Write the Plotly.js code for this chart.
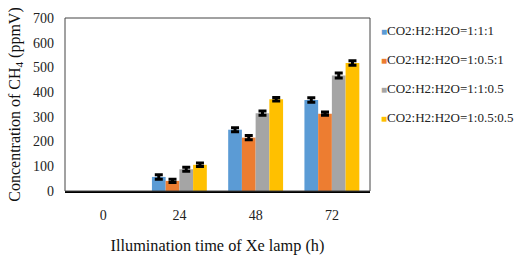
<!DOCTYPE html>
<html>
<head>
<meta charset="utf-8">
<script src="https://cdn.plot.ly/plotly-3.0.1.min.js"></script>
<style>html,body{margin:0;padding:0;background:#fff;}#chart{width:529px;height:257px;}</style>
</head>
<body>
<div id="chart"></div>
<script>
const categories = ['0', '24', '48', '72'];
const seriesNames = ['CO2:H2:H2O=1:1:1', 'CO2:H2:H2O=1:0.5:1', 'CO2:H2:H2O=1:1:0.5', 'CO2:H2:H2O=1:0.5:0.5'];
const ratio111 = [null, 57, 248, 368];
const ratio10501 = [null, 41, 216, 313];
const ratio1105 = [null, 88, 315, 467];
const ratio10505 = [null, 106, 371, 518];
const err111 = [null, 9, 8, 9];
const err10501 = [null, 7, 9, 7];
const err1105 = [null, 8, 9, 10];
const err10505 = [null, 7, 7, 9];
const colors = ['#5B9BD5', '#ED7D31', '#A5A5A5', '#FFC000'];

const values = [ratio111, ratio10501, ratio1105, ratio10505];
const errs = [err111, err10501, err1105, err10505];
const FONT = 'Liberation Serif, Times New Roman, serif';

const traces = values.map((v, i) => ({
  type: 'bar', x: categories, y: v, name: seriesNames[i],
  marker: {color: colors[i]},
  error_y: {type: 'data', array: errs[i], visible: true, color: '#000', thickness: 3, width: 4},
  showlegend: false, hoverinfo: 'none'
}));

const annotations = seriesNames.map((n, i) => ({
  xref: 'paper', yref: 'paper', x: 1.03, y: 0.93 - i * 0.168,
  xanchor: 'left', yanchor: 'middle', showarrow: false,
  text: '<span style="color:' + colors[i] + ';font-size:10px">■</span>' + n,
  font: {family: FONT, size: 13, color: '#222'}
}));

const layout = {
  width: 529, height: 257,
  margin: {l: 65, r: 159, t: 18, b: 66},
  paper_bgcolor: '#fff', plot_bgcolor: '#fff',
  barmode: 'group', bargap: 0.28, bargroupgap: 0,
  font: {family: FONT, color: '#222'},
  xaxis: {
    type: 'category', showgrid: false, zeroline: false,
    showline: true, linecolor: '#000', linewidth: 2,
    ticks: '', ticklabelstandoff: 10,
    tickfont: {family: FONT, size: 14, color: '#222'},
    title: {text: 'Illumination time of Xe lamp (h)', font: {family: FONT, size: 16.3, color: '#111'}, standoff: 18}
  },
  yaxis: {
    range: [0, 700], dtick: 100, showgrid: false, zeroline: false,
    showline: false, ticks: '', ticklabelstandoff: 10,
    tickfont: {family: FONT, size: 14, color: '#222'},
    title: {text: 'Concentration of CH<sub>4</sub> (ppmV)', font: {family: FONT, size: 16, color: '#111'}, standoff: 8}
  },
  shapes: [{type: 'rect', xref: 'paper', yref: 'paper', x0: 0, x1: 1, y0: 0, y1: 1, line: {color: '#444', width: 1}}],
  annotations: annotations,
  showlegend: false
};

Plotly.newPlot('chart', traces, layout, {staticPlot: true, displayModeBar: false});
</script>
</body>
</html>
